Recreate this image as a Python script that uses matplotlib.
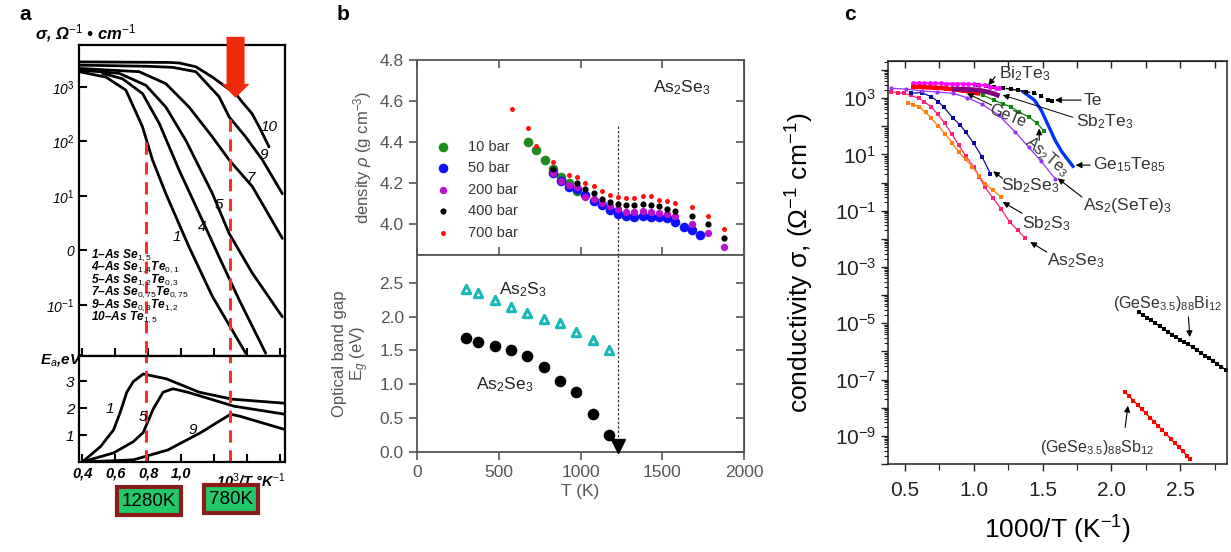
import numpy as np
import matplotlib
matplotlib.use('Agg')
import matplotlib.pyplot as plt
from matplotlib.ticker import FixedLocator, NullFormatter, LogLocator, FuncFormatter, MultipleLocator

plt.rcParams['font.family'] = ['Liberation Sans', 'DejaVu Sans']
plt.rcParams['mathtext.fontset'] = 'custom'
plt.rcParams['mathtext.rm'] = 'Liberation Sans'
plt.rcParams['mathtext.it'] = 'Liberation Sans:italic'
plt.rcParams['mathtext.bf'] = 'Liberation Sans:bold'

# ---------------- Panel a data (x = 10^3/T, y = log10 sigma) ----------------
a_c10_x = [0.382, 0.927, 0.988, 1.089, 1.19, 1.271, 1.33, 1.371, 1.43, 1.473, 1.533]
a_c10_y = [3.46, 3.45, 3.44, 3.37, 3.18, 3.00, 2.88, 2.72, 2.51, 2.27, 1.90]
a_c9_x = [0.382, 0.786, 0.947, 1.089, 1.23, 1.291, 1.392, 1.493, 1.614]
a_c9_y = [3.40, 3.38, 3.36, 3.28, 2.82, 2.45, 2.08, 1.66, 1.04]
a_c7_x = [0.382, 0.745, 0.907, 1.048, 1.19, 1.291, 1.432, 1.614]
a_c7_y = [3.34, 3.28, 3.06, 2.63, 2.08, 1.66, 1.17, 0.22]
a_c5_x = [0.382, 0.624, 0.786, 0.907, 1.028, 1.19, 1.291, 1.432, 1.614]
a_c5_y = [3.31, 3.25, 3.03, 2.63, 2.02, 1.04, 0.31, -0.42, -1.22]
a_c4_x = [0.523, 0.644, 0.765, 0.867, 0.988, 1.109, 1.23, 1.352, 1.513]
a_c4_y = [3.25, 3.15, 2.88, 2.33, 1.47, 0.68, -0.12, -0.91, -1.89]
a_c1_x = [0.382, 0.544, 0.665, 0.765, 0.826, 0.907, 1.048, 1.19, 1.392]
a_c1_y = [3.28, 3.18, 2.94, 2.27, 1.66, 1.04, 0.06, -0.85, -1.89]
a_curve_labels = ['10', '9', '7', '5', '4', '1']

a_e1_x = [0.4, 0.51, 0.59, 0.63, 0.67, 0.71, 0.77, 0.91, 1.11, 1.31, 1.63]
a_e1_y = [0.0, 0.57, 1.2, 1.85, 2.6, 3.0, 3.28, 3.1, 2.6, 2.34, 2.19]
a_e5_x = [0.4, 0.59, 0.71, 0.77, 0.83, 0.89, 0.95, 1.04, 1.32, 1.63]
a_e5_y = [0.0, 0.34, 0.76, 1.1, 1.97, 2.6, 2.73, 2.6, 2.08, 1.78]
a_e9_x = [0.4, 0.71, 0.92, 1.12, 1.22, 1.30, 1.36, 1.48, 1.63]
a_e9_y = [0.0, 0.08, 0.45, 1.10, 1.48, 1.78, 1.70, 1.48, 1.21]

a_legend = ['1–As Se$_{1,5}$', '4–As Se$_{1,4}$Te$_{0,1}$', '5–As Se$_{1,2}$Te$_{0,3}$',
            '7–As Se$_{0,75}$Te$_{0,75}$', '9–As Se$_{0,3}$Te$_{1,2}$', '10–As Te$_{1,5}$']
a_marks = [0.786, 1.295]
a_boxes = ['1280K', '780K']

# ---------------- Panel b data ----------------
T10 = [680, 730, 780, 830, 880, 930, 980]
rho10 = [4.40, 4.36, 4.31, 4.27, 4.23, 4.20, 4.16]
T50 = [830, 880, 930, 980, 1030, 1080, 1130, 1180, 1230, 1280, 1330, 1380, 1430, 1480, 1530, 1580, 1630, 1680, 1730]
rho50 = [4.25, 4.21, 4.18, 4.17, 4.14, 4.11, 4.09, 4.07, 4.05, 4.04, 4.035, 4.04, 4.035, 4.035, 4.03, 4.01, 3.985, 3.97, 3.945]
T200 = [830, 880, 930, 980, 1030, 1080, 1130, 1180, 1230, 1280, 1330, 1380, 1430, 1480, 1530, 1580, 1680, 1780, 1880]
rho200 = [4.25, 4.21, 4.19, 4.18, 4.13, 4.12, 4.10, 4.085, 4.075, 4.06, 4.06, 4.065, 4.06, 4.055, 4.05, 4.04, 4.00, 3.955, 3.885]
T400 = [830, 980, 1030, 1080, 1130, 1180, 1230, 1280, 1330, 1380, 1430, 1480, 1530, 1580, 1680, 1780, 1880]
rho400 = [4.27, 4.20, 4.17, 4.15, 4.12, 4.105, 4.095, 4.09, 4.09, 4.095, 4.09, 4.085, 4.075, 4.065, 4.04, 4.00, 3.93]
T700 = [580, 680, 730, 830, 930, 980, 1030, 1080, 1130, 1180, 1230, 1280, 1330, 1380, 1430, 1480, 1530, 1580, 1680, 1780, 1880]
rho700 = [4.56, 4.47, 4.38, 4.30, 4.24, 4.23, 4.20, 4.185, 4.16, 4.14, 4.13, 4.125, 4.125, 4.135, 4.135, 4.115, 4.11, 4.10, 4.08, 4.04, 3.975]
b_labels = ['10 bar', '50 bar', '200 bar', '400 bar', '700 bar']

T_gap = [300, 375, 475, 575, 675, 775, 875, 975, 1075, 1175]
Eg_As2S3 = [2.41, 2.35, 2.25, 2.14, 2.06, 1.96, 1.90, 1.77, 1.65, 1.51]
Eg_As2Se3 = [1.69, 1.63, 1.56, 1.50, 1.42, 1.25, 1.05, 0.89, 0.56, 0.25]
T_mark = 1230

# ---------------- Panel c data (x = 1000/T, y = log10 sigma) ----------------
c_bi2te3_x = [0.56, 0.60, 0.64, 0.68, 0.72, 0.76, 0.80, 0.84, 0.88, 0.92, 0.96, 1.00, 1.04, 1.08, 1.12, 1.16, 1.18]
c_bi2te3_y = [3.53, 3.53, 3.53, 3.53, 3.53, 3.53, 3.52, 3.52, 3.52, 3.51, 3.51, 3.50, 3.48, 3.45, 3.41, 3.37, 3.35]
c_red_x = [0.56, 0.60, 0.64, 0.68, 0.72, 0.76, 0.80, 0.84, 0.88, 0.92, 0.96, 1.00, 1.03]
c_red_y = [3.40, 3.40, 3.39, 3.38, 3.37, 3.36, 3.34, 3.32, 3.30, 3.27, 3.24, 3.20, 3.17]
c_purple_x = [0.86, 0.90, 0.95, 1.00, 1.05, 1.10, 1.15, 1.17]
c_purple_y = [3.32, 3.32, 3.31, 3.30, 3.27, 3.22, 3.15, 3.11]
c_te_x = [1.03, 1.09, 1.15, 1.21, 1.27, 1.32, 1.38, 1.44, 1.49, 1.54, 1.57]
c_te_y = [3.46, 3.43, 3.40, 3.36, 3.32, 3.28, 3.23, 3.17, 3.07, 2.95, 2.90]
c_ge15_x = [1.36, 1.44, 1.49, 1.54, 1.59, 1.64, 1.72]
c_ge15_y = [3.22, 2.93, 2.57, 2.04, 1.51, 1.09, 0.58]
c_as2te3_x = [0.94, 1.00, 1.07, 1.15, 1.21, 1.27, 1.33, 1.40, 1.46, 1.51]
c_as2te3_y = [3.30, 3.22, 3.10, 2.92, 2.80, 2.69, 2.51, 2.33, 2.10, 1.84]
c_assete_x = [0.40, 0.51, 0.62, 0.73, 0.85, 0.95, 1.06, 1.18, 1.30, 1.40, 1.49, 1.59]
c_assete_y = [3.35, 3.32, 3.26, 3.22, 3.17, 3.02, 2.78, 2.40, 1.80, 1.25, 0.75, 0.14]
c_sb2se3_x = [0.54, 0.62, 0.69, 0.74, 0.78, 0.85, 0.90, 0.94, 1.00, 1.06, 1.12]
c_sb2se3_y = [3.17, 3.20, 3.05, 2.88, 2.69, 2.28, 2.05, 1.80, 1.39, 0.91, 0.32]
c_sb2s3_x = [0.52, 0.56, 0.60, 0.65, 0.69, 0.74, 0.79, 0.84, 0.89, 0.94, 0.99, 1.04, 1.08, 1.14, 1.20]
c_sb2s3_y = [2.83, 2.77, 2.69, 2.50, 2.28, 2.02, 1.74, 1.42, 1.09, 0.82, 0.56, 0.22, -0.04, -0.28, -0.51]
c_as2se3_x = [0.40, 0.45, 0.49, 0.54, 0.60, 0.64, 0.69, 0.74, 0.79, 0.84, 0.89, 0.94, 1.00, 1.04, 1.08, 1.14, 1.20, 1.26, 1.32, 1.37]
c_as2se3_y = [3.22, 3.20, 3.17, 3.10, 2.99, 2.87, 2.69, 2.42, 2.10, 1.72, 1.33, 0.95, 0.56, 0.20, -0.16, -0.55, -0.95, -1.40, -1.70, -1.96]
c_bi12_x = [2.20, 2.23, 2.26, 2.29, 2.32, 2.35, 2.38, 2.41, 2.44, 2.47, 2.50, 2.53, 2.56, 2.59, 2.62, 2.65, 2.68, 2.71, 2.74, 2.77, 2.80, 2.83]
c_bi12_y = [-4.60, -4.70, -4.80, -4.90, -5.00, -5.10, -5.20, -5.30, -5.40, -5.49, -5.58, -5.67, -5.75, -5.85, -5.95, -6.05, -6.15, -6.25, -6.35, -6.45, -6.55, -6.65]
c_sb12_x = [2.10, 2.13, 2.16, 2.19, 2.22, 2.25, 2.28, 2.31, 2.34, 2.37, 2.40, 2.43, 2.46, 2.49, 2.52, 2.55, 2.57]
c_sb12_y = [-7.45, -7.60, -7.75, -7.90, -8.05, -8.20, -8.35, -8.50, -8.65, -8.80, -8.95, -9.10, -9.25, -9.40, -9.55, -9.72, -9.82]

W, H = 1231, 552
fig = plt.figure(figsize=(W / 100, H / 100), dpi=100)


def box(x0, y0, x1, y1):
    return [x0 / W, 1 - y1 / H, (x1 - x0) / W, (y1 - y0) / H]


# =============================== Panel a ===============================
axa = fig.add_axes(box(79, 45, 285, 356))
axa2 = fig.add_axes(box(79, 356, 285, 462))
for ax in (axa, axa2):
    ax.set_xlim(0.38, 1.63)
    for sp in ax.spines.values():
        sp.set_linewidth(1.6)
        sp.set_color('black')
    ax.set_xticks([0.4, 0.6, 0.8, 1.0, 1.2, 1.4, 1.6])
    ax.tick_params(direction='in', length=6, width=1.5, colors='black')

axa.set_yscale('log')
axa.set_ylim(10 ** -1.94, 10 ** 3.77)
axa.set_yticks([1e3, 1e2, 1e1, 1e0, 1e-1])
axa.set_yticklabels(['10$^3$', '10$^2$', '10$^1$', '0', '10$^{-1}$'], fontstyle='italic', fontsize=10)
axa.yaxis.set_minor_locator(FixedLocator([]))
axa.set_xticklabels([])

curves = [(a_c10_x, a_c10_y), (a_c9_x, a_c9_y), (a_c7_x, a_c7_y), (a_c5_x, a_c5_y), (a_c4_x, a_c4_y), (a_c1_x, a_c1_y)]
for cx, cy in curves:
    axa.plot(cx, 10 ** np.array(cy), color='black', lw=2.0, solid_capstyle='round', solid_joinstyle='round')
lab_pos = [(1.533, 2.27), (1.503, 1.75), (1.422, 1.32), (1.23, 0.83), (1.129, 0.43), (0.974, 0.25)]
for lab, (lx, ly) in zip(a_curve_labels, lab_pos):
    axa.text(lx, 10 ** ly, lab, fontsize=11, fontstyle='italic', ha='center', va='center')

for i, t in enumerate(a_legend):
    axa.text(0.06, (356 - 255 - i * 12.5) / 311, t, transform=axa.transAxes, fontsize=8.6, fontstyle='italic',
             fontweight='bold', va='center', ha='left')

axa.plot([a_marks[0], a_marks[0]], [10 ** 1.99, 10 ** -1.94], color='#ff2a2a', lw=2.2, ls=(0, (4, 2.5)))
axa.plot([a_marks[1], a_marks[1]], [10 ** 2.42, 10 ** -1.94], color='#ff2a2a', lw=2.2, ls=(0, (4, 2.5)))
axa.annotate('', xy=(1.33, 10 ** 2.80), xytext=(1.33, 10 ** 3.92), annotation_clip=False,
             arrowprops=dict(arrowstyle='simple,head_length=1.0,head_width=2.0,tail_width=1.3',
                             color='#f02a0a', lw=0, shrinkA=0, shrinkB=0))

axa2.set_ylim(0, 3.95)
axa2.set_yticks([1, 2, 3])
axa2.set_yticklabels(['1', '2', '3'], fontstyle='italic', fontsize=11)
axa2.set_xticklabels(['0,4', '0,6', '0,8', '1,0', '', '', ''], fontstyle='italic', fontsize=10.5, fontweight='bold')
for cx, cy in [(a_e1_x, a_e1_y), (a_e5_x, a_e5_y), (a_e9_x, a_e9_y)]:
    axa2.plot(cx, cy, color='black', lw=2.0)
for lab, (lx, ly) in zip(['1', '5', '9'], [(0.57, 1.97), (0.77, 1.67), (1.07, 1.21)]):
    axa2.text(lx, ly, lab, fontsize=11, fontstyle='italic', ha='center', va='center')
for m in a_marks:
    axa2.plot([m, m], [0, 3.95], color='#ff2a2a', lw=2.2, ls=(0, (4, 2.5)))
axa2.annotate('10$^3$/T,°K$^{-1}$', xy=(1.42, -0.09), xycoords=('data', 'axes fraction'),
              ha='center', va='top', fontsize=10.5, fontstyle='italic', fontweight='bold')

fig.text(35 / W, 1 - 33 / H, 'σ, Ω$^{-1}$ • cm$^{-1}$', fontsize=12, fontweight='bold', fontstyle='italic',
         va='center', ha='left')
fig.text(40 / W, 1 - 360 / H, 'E$_a$,eV', fontsize=11, fontweight='bold', fontstyle='italic', va='center', ha='left')

for txt, (cx, cy) in zip(a_boxes, [(149, 501), (231, 499)]):
    fig.text(cx / W, 1 - cy / H, txt, fontsize=13.5, ha='center', va='center',
             bbox=dict(boxstyle='square,pad=0.28', facecolor='#22c86a', edgecolor='#8b1c1c', linewidth=3))

fig.text(25 / W, 1 - 15 / H, 'a', fontsize=15, fontweight='bold', ha='center', va='center')

# =============================== Panel b ===============================
gray = '#555555'
axb = fig.add_axes(box(417, 60, 744, 255))
axb2 = fig.add_axes(box(417, 255, 744, 452))
for ax in (axb, axb2):
    ax.set_xlim(0, 2000)
    for sp in ax.spines.values():
        sp.set_color(gray)
        sp.set_linewidth(1.3)
    ax.set_xticks([0, 500, 1000, 1500, 2000])
    ax.tick_params(axis='y', direction='out', length=6, width=1.2, colors=gray, labelsize=12.5, labelcolor='#555555')
    sec = ax.secondary_yaxis('right')
    sec.tick_params(direction='in', length=6, width=1.2, colors=gray)
    sec.set_yticklabels([])

axb.set_ylim(3.848, 4.8)
axb.set_yticks([4.0, 4.2, 4.4, 4.6, 4.8])
axb.set_yticklabels(['4.0', '4.2', '4.4', '4.6', '4.8'])
axb.tick_params(axis='x', direction='in', length=6, width=1.2, colors=gray, labelbottom=False, top=True)

axb.scatter(T10, rho10, s=48, color='#1e8c1e', lw=0, zorder=3)
axb.scatter(T50, rho50, s=48, color='#1010ff', lw=0, zorder=3)
axb.scatter(T200, rho200, s=28, color='#bb11cc', lw=0, zorder=4)
axb.scatter(T400, rho400, s=20, color='black', lw=0, zorder=5)
axb.scatter(T700, rho700, s=13, color='#ff1111', lw=0, zorder=6)
leg_sizes = [48, 48, 28, 20, 13]
leg_cols = ['#1e8c1e', '#1010ff', '#bb11cc', 'black', '#ff1111']
for i, (lab, s, c) in enumerate(zip(b_labels, leg_sizes, leg_cols)):
    yy = 1 - (147 + i * 21.5 - 60) / 195
    axb.scatter([0.078], [yy], s=s, color=c, lw=0, transform=axb.transAxes)
    axb.text(0.155, yy, lab, transform=axb.transAxes, fontsize=10.5, color='#333333', va='center', ha='left')
axb.text(1620, 4.665, 'As$_2$Se$_3$', fontsize=12.5, color='#222222', ha='center', va='center')
axb.plot([T_mark, T_mark], [4.48, 3.848], color='#333333', lw=0.9, ls=(0, (2, 1.5)))
axb.set_ylabel('density $\\rho$ (g cm$^{-3}$)', fontsize=12, color='#555555')

axb2.set_ylim(0, 2.91)
axb2.set_yticks([0, 0.5, 1.0, 1.5, 2.0, 2.5])
axb2.set_yticklabels(['0.0', '0.5', '1.0', '1.5', '2.0', '2.5'])
axb2.tick_params(axis='x', direction='out', length=6, width=1.2, colors=gray, labelsize=12.5, labelcolor='#555555')
axb2.scatter(T_gap, Eg_As2S3, s=36, marker='^', facecolor='white', edgecolor='#18b8b8', linewidths=2.2, zorder=3)
axb2.scatter(T_gap, Eg_As2Se3, s=70, color='black', lw=0, zorder=3)
axb2.text(648, 2.40, 'As$_2$S$_3$', fontsize=12.5, color='#222222', ha='center', va='center')
axb2.text(538, 0.99, 'As$_2$Se$_3$', fontsize=12.5, color='#222222', ha='center', va='center')
axb2.plot([T_mark, T_mark], [2.91, 0.12], color='#333333', lw=0.9, ls=(0, (2, 1.5)))
axb2.plot([T_mark], [0.085], marker='v', color='black', ms=10, clip_on=False, zorder=6)
axb2.set_ylabel('Optical band gap\nE$_g$ (eV)', fontsize=12, color='#555555', linespacing=1.1)
axb2.set_xlabel('T (K)', fontsize=12.5, color='#555555', labelpad=3)
axb.yaxis.set_label_coords(-0.13, 0.5)
axb2.yaxis.set_label_coords(-0.14, 0.5)

fig.text(343 / W, 1 - 15 / H, 'b', fontsize=15, fontweight='bold', ha='center', va='center')

# =============================== Panel c ===============================
axc = fig.add_axes(box(888, 61, 1227, 464))
axc.set_yscale('log')
axc.set_xlim(0.376, 2.84)
axc.set_ylim(1e-10, 10 ** 4.32)
for sp in axc.spines.values():
    sp.set_linewidth(1.1)
    sp.set_color('#222222')


def P(x, y, **kw):
    axc.plot(x, 10 ** np.array(y), **kw)


P(c_as2se3_x, c_as2se3_y, color='#ff1f78', lw=0.9, marker='s', ms=2.8, mew=0)
P(c_sb2s3_x, c_sb2s3_y, color='#ff7f0e', lw=0.9, marker='s', ms=2.8, mew=0)
P(c_sb2se3_x, c_sb2se3_y, color='#0a0a9a', lw=0.9, marker='s', ms=2.8, mew=0)
P(c_assete_x, c_assete_y, color='#9b30ff', lw=0.9, marker='o', ms=3.0, mew=0)
P(c_as2te3_x, c_as2te3_y, color='#118811', lw=0.9, marker='s', ms=3.0, mew=0)
P(c_ge15_x, c_ge15_y, color='#0033ff', lw=2.4, marker='o', ms=1.5, mew=0)
P(c_te_x, c_te_y, color='black', lw=1.0, ls=(0, (3, 2)), marker='s', ms=2.8, mew=0)
P(c_bi2te3_x, c_bi2te3_y, color='#ff00ff', lw=1.4, marker='o', ms=3.5, mew=0)
P(c_red_x, c_red_y, color='#ff0000', lw=3.2, marker='s', ms=3.2, mew=0)
P(c_purple_x, c_purple_y, color='#800080', lw=3.5)
P(c_bi12_x, c_bi12_y, color='black', lw=1.0, marker='s', ms=2.8, mew=0)
P(c_sb12_x, c_sb12_y, color='#ff0000', lw=1.0, marker='s', ms=2.8, mew=0)

axc.yaxis.set_major_locator(LogLocator(base=10, numticks=40))
axc.yaxis.set_minor_locator(LogLocator(base=10, subs=np.arange(2, 10), numticks=40))
axc.yaxis.set_minor_formatter(NullFormatter())
axc.yaxis.set_major_formatter(FuncFormatter(
    lambda v, p: ('10$^{%d}$' % int(round(np.log10(v)))) if int(round(np.log10(v))) % 2 else ''))
axc.xaxis.set_major_locator(MultipleLocator(0.5))
axc.xaxis.set_minor_locator(MultipleLocator(0.25))
axc.xaxis.set_major_formatter(FuncFormatter(lambda v, p: '%.1f' % v))
axc.tick_params(axis='both', which='major', direction='out', length=5, width=1.0, labelsize=15, colors='#222222')
axc.tick_params(axis='x', which='major', pad=7)
axc.tick_params(axis='y', which='minor', direction='out', length=3, width=0.8, colors='#222222')
axc.tick_params(axis='x', which='minor', direction='out', length=4, width=0.8, colors='#222222')
sx = axc.secondary_xaxis('top')
sx.xaxis.set_major_locator(MultipleLocator(0.25))
sx.tick_params(direction='in', length=5, width=1.0, colors='#222222')
sx.set_xticklabels([])
axc.set_xlabel('1000/T (K$^{-1}$)', fontsize=19, labelpad=10)
axc.set_ylabel('conductivity σ, (Ω$^{-1}$ cm$^{-1}$)', fontsize=19)
axc.yaxis.set_label_coords(-0.212, 0.5)

tc = '#333333'


def lab(text, x, y, ha='left', rot=0, fs=12.5):
    axc.text(x, 10 ** y, text, fontsize=fs, color=tc, ha=ha, va='center', rotation=rot,
             rotation_mode='anchor')


def arr(p0, p1, lw=0.8):
    axc.annotate('', xy=(p1[0], 10 ** p1[1]), xytext=(p0[0], 10 ** p0[1]),
                 arrowprops=dict(arrowstyle='-|>', color='black', lw=lw, mutation_scale=9, shrinkA=0, shrinkB=0))


lab('Bi$_2$Te$_3$', 1.18, 3.88)
arr((1.155, 3.76), (1.105, 3.46))
lab('Te', 1.795, 2.93)
arr((1.78, 2.93), (1.59, 2.93))
lab('Sb$_2$Te$_3$', 1.745, 2.15)
arr((1.72, 2.32), (1.21, 3.11), lw=0.7)
lab('GeTe', 1.245, 2.36, ha='center', rot=-22, fs=11.5)
arr((1.13, 2.75), (0.95, 3.17), lw=0.7)
lab('As$_2$Te$_3$', 1.53, 0.94, ha='center', rot=-40, fs=11.5)
arr((1.475, 1.50), (1.475, 1.92))
lab('Ge$_{15}$Te$_{85}$', 1.867, 0.62)
arr((1.845, 0.62), (1.74, 0.62))
lab('Sb$_2$Se$_3$', 1.20, -0.12)
arr((1.21, 0.15), (1.14, 0.40))
lab('As$_2$(SeTe)$_3$', 1.795, -0.81)
arr((1.785, -0.51), (1.61, 0.15))
lab('Sb$_2$S$_3$', 1.35, -1.45)
arr((1.35, -1.09), (1.21, -0.69))
lab('As$_2$Se$_3$', 1.53, -2.77)
arr((1.53, -2.47), (1.41, -2.11))
lab('(GeSe$_{3.5}$)$_{88}$Bi$_{12}$', 2.01, -4.30, fs=11.5)
arr((2.56, -4.78), (2.57, -5.49))
lab('(GeSe$_{3.5}$)$_{88}$Sb$_{12}$', 1.48, -9.42, fs=11.5)
arr((2.10, -8.70), (2.12, -7.93))

fig.text(850 / W, 1 - 15 / H, 'c', fontsize=15, fontweight='bold', ha='center', va='center')

fig.savefig('out.png', dpi=100)
